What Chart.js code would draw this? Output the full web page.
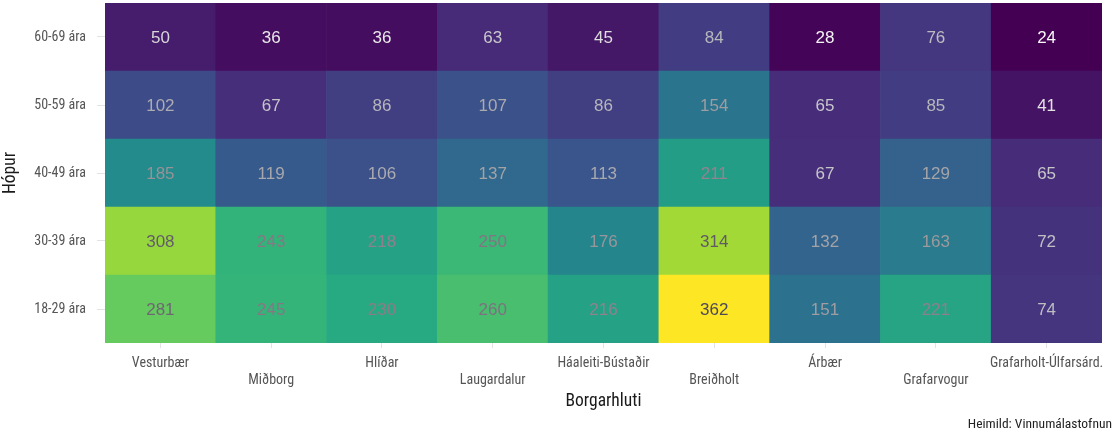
<!DOCTYPE html>
<html>
<head>
<meta charset="utf-8">
<script src="https://cdn.jsdelivr.net/npm/chart.js@4"></script>
<style>
  html, body { margin: 0; background: #fff; }
  #wrap { width: 1114px; height: 435px; }
</style>
</head>
<body>
<div id="wrap"><canvas id="hitakort"></canvas></div>
<script>
// flokkar og gildi
const borgarhlutar = ['Vesturbær', 'Miðborg', 'Hlíðar', 'Laugardalur', 'Háaleiti-Bústaðir', 'Breiðholt', 'Árbær', 'Grafarvogur', 'Grafarholt-Úlfarsárd.'];
const hopar = ['18-29 ára', '30-39 ára', '40-49 ára', '50-59 ára', '60-69 ára'];
const gildi_18_29 = [281, 245, 230, 260, 216, 362, 151, 221, 74];
const gildi_30_39 = [308, 243, 218, 250, 176, 314, 132, 163, 72];
const gildi_40_49 = [185, 119, 106, 137, 113, 211, 67, 129, 65];
const gildi_50_59 = [102, 67, 86, 107, 86, 154, 65, 85, 41];
const gildi_60_69 = [50, 36, 36, 63, 45, 84, 28, 76, 24];
const radir = [gildi_18_29, gildi_30_39, gildi_40_49, gildi_50_59, gildi_60_69];
const heimild = 'Heimild: Vinnumálastofnun';

const allt = radir.flat();
const minG = Math.min(...allt), maxG = Math.max(...allt);

function hex2rgb(h) { return [1, 3, 5].map(i => parseInt(h.substr(i, 2), 16)); }
// stops: [staða 0-1, [r,g,b]]
function blanda(stops, t) {
    let i = 0;
    while (i < stops.length - 2 && t > stops[i + 1][0]) i++;
    const [t0, a] = stops[i], [t1, b] = stops[i + 1];
    const f = Math.max(0, Math.min(1, (t - t0) / (t1 - t0)));
    return a.map((v, k) => Math.round(v + (b[k] - v) * f));
}
function rgb(c) { return `rgb(${c[0]},${c[1]},${c[2]})`; }

// viridis litaskali
const viridis = ['#440154', '#472d7b', '#3b528b', '#2c728e', '#21918c', '#28ae80', '#5ec962', '#addc30', '#fde725'];
const viridisStops = viridis.map((h, i) => [i / (viridis.length - 1), hex2rgb(h)]);
function litur(v) { return rgb(blanda(viridisStops, (v - minG) / (maxG - minG))); }

// textalitur: ljós fyrir lág gildi, dekkri fyrir há
const textaStops = [
    [0, [248, 248, 248]], [0.08, [214, 214, 216]], [0.14, [192, 192, 196]], [0.23, [172, 172, 177]],
    [0.45, [152, 150, 154]], [0.6, [140, 125, 138]], [0.68, [132, 116, 130]], [0.78, [106, 99, 112]], [1, [78, 72, 88]]
];
function textalitur(v) { return rgb(blanda(textaStops, (v - minG) / (maxG - minG))); }

const letur = '"Roboto Condensed", "Liberation Sans Narrow", "DejaVu Sans Condensed", sans-serif';

const gildaMerki = {
    id: 'gildaMerki',
    afterDatasetsDraw(chart) {
        const ctx = chart.ctx;
        ctx.save();
        ctx.font = '17px "Liberation Sans", Arial, sans-serif';
        ctx.textAlign = 'center';
        ctx.textBaseline = 'middle';
        chart.data.datasets.forEach((ds, di) => {
            chart.getDatasetMeta(di).data.forEach((el, i) => {
                const v = ds.gildi[i];
                ctx.fillStyle = textalitur(v);
                ctx.fillText(String(v), el.x, (el.y + el.base) / 2 + 1);
            });
        });
        ctx.restore();
    },
    // heimild neðst til hægri
    afterDraw(chart) {
        const ctx = chart.ctx;
        ctx.save();
        ctx.font = '13.5px ' + letur;
        ctx.fillStyle = '#222';
        ctx.textAlign = 'right';
        ctx.textBaseline = 'middle';
        ctx.fillText(heimild, chart.width - 2, chart.height - 10);
        ctx.restore();
    }
};

new Chart(document.getElementById('hitakort'), {
    type: 'bar',
    data: {
        labels: borgarhlutar,
        datasets: radir.map((vals, r) => ({
            label: hopar[r],
            data: vals.map(() => [r, r + 1]),
            gildi: vals,
            backgroundColor: vals.map(litur),
            borderWidth: 0,
            barPercentage: 1,
            categoryPercentage: 1,
            grouped: false
        }))
    },
    options: {
        responsive: true,
        maintainAspectRatio: false,
        animation: false,
        layout: { padding: { top: 3, right: 12, left: 0, bottom: 22 } },
        plugins: {
            legend: { display: false },
            tooltip: { enabled: false }
        },
        scales: {
            x: {
                grid: { offset: false, color: '#ebebeb', tickColor: '#e3e3e3', tickLength: 5 },
                border: { display: false },
                ticks: {
                    autoSkip: false,
                    maxRotation: 0,
                    padding: 7,
                    color: '#555',
                    font: { family: letur, size: 14, lineHeight: 1.22 },
                    callback: (v, i) => i % 2 ? ['', borgarhlutar[i]] : [borgarhlutar[i], '']
                },
                title: {
                    display: true,
                    text: 'Borgarhluti',
                    color: '#1a1a1a',
                    font: { family: letur, size: 17.5, weight: 'normal' },
                    padding: { top: 0, bottom: 1 }
                },
                afterFit: s => { s.height = 70; s.paddingLeft = 0; s.paddingRight = 0; }
            },
            y: {
                min: 0,
                max: 5,
                afterBuildTicks: s => { s.ticks = hopar.map((_, i) => ({ value: i + 0.5 })); },
                grid: { color: '#ebebeb', tickColor: '#e3e3e3', tickLength: 8 },
                border: { display: false },
                ticks: {
                    padding: 11,
                    color: '#555',
                    font: { family: letur, size: 14 },
                    callback: (v, i) => hopar[i]
                },
                title: {
                    display: true,
                    text: 'Hópur',
                    color: '#1a1a1a',
                    font: { family: letur, size: 17.5, weight: 'normal' },
                    padding: { top: 0, bottom: 0 }
                },
                afterFit: s => { s.width = 105; s.paddingTop = 0; s.paddingBottom = 0; }
            }
        }
    },
    plugins: [gildaMerki]
});
</script>
</body>
</html>
